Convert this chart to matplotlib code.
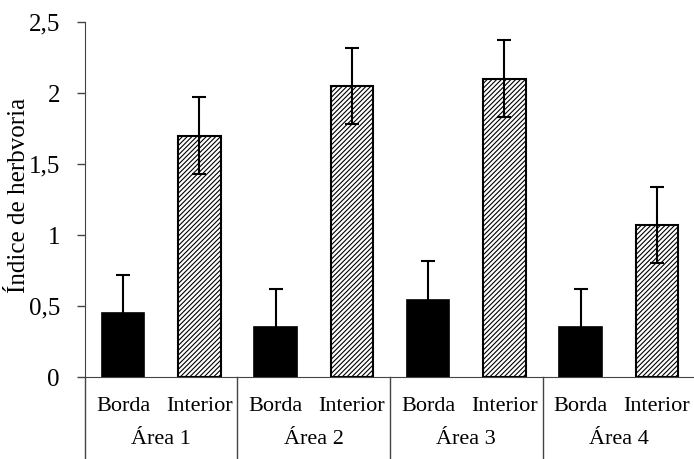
import numpy as np
import matplotlib.pyplot as plt
import matplotlib.transforms as mtransforms

plt.rcParams['font.family'] = ['Liberation Serif', 'DejaVu Serif']
plt.rcParams['hatch.linewidth'] = 0.8

areas = ['Área 1', 'Área 2', 'Área 3', 'Área 4']
sites = ['Borda', 'Interior']
borda = [0.45, 0.35, 0.54, 0.35]
interior = [1.70, 2.05, 2.10, 1.07]
borda_err = [0.27, 0.27, 0.28, 0.27]
interior_err = [0.27, 0.27, 0.27, 0.27]

fig = plt.figure(figsize=(6.94, 4.59), dpi=100)
ax = fig.add_axes([85 / 694, 82 / 459, 610 / 694, 355 / 459])

x_b = np.arange(len(areas)) * 2
x_i = x_b + 1
w = 0.56

ax.bar(x_b, borda, w, color='black', edgecolor='black', linewidth=1.2)
ax.bar(x_i, interior, w, color='white', edgecolor='black', hatch='///////', linewidth=1.5)
ax.errorbar(x_b, borda, yerr=borda_err, fmt='none', ecolor='black',
            elinewidth=1.5, capsize=5, capthick=1.5)
ax.errorbar(x_i, interior, yerr=interior_err, fmt='none', ecolor='black',
            elinewidth=1.5, capsize=5, capthick=1.5)

ax.set_xlim(-0.5, 7.5)
ax.set_ylim(0, 2.5)
ax.set_yticks([0, 0.5, 1, 1.5, 2, 2.5])
ax.set_yticklabels(['0', '0,5', '1', '1,5', '2', '2,5'])
ax.set_xticks([])
ax.tick_params(axis='y', labelsize=18, length=6, width=1, color='#444444', pad=12)
fig.text(19 / 694, 1 - 195 / 459, 'Índice de herbvoria', rotation=90,
         ha='center', va='center', fontsize=18)

for s in ['top', 'right']:
    ax.spines[s].set_visible(False)
ax.spines['left'].set_color('#444444')
ax.spines['bottom'].set_color('#444444')

trans = mtransforms.blended_transform_factory(ax.transData, ax.transAxes)
for k, xb in enumerate(x_b):
    ax.text(xb, -0.082, sites[0], transform=trans, ha='center', va='center', fontsize=16)
    ax.text(xb + 1, -0.082, sites[1], transform=trans, ha='center', va='center', fontsize=16)
    ax.text(xb + 0.5, -0.177, areas[k], transform=trans, ha='center', va='center', fontsize=16)
for xs in np.arange(len(areas) + 1) * 2 - 0.5:
    ax.plot([xs, xs], [0, -0.235], transform=trans, color='#444444', lw=1, clip_on=False)

fig.savefig('out.png', dpi=100)
